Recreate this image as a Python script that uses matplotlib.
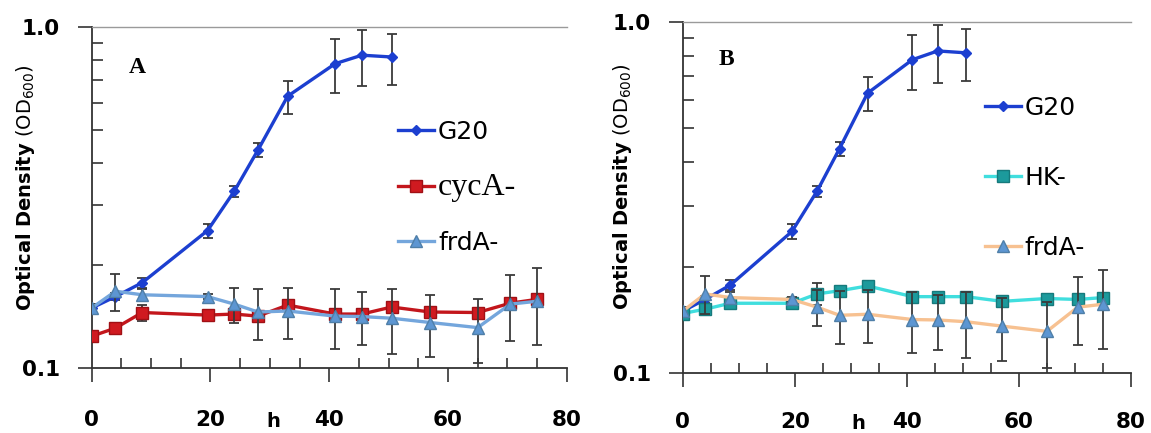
import matplotlib.pyplot as plt
from matplotlib.ticker import LogLocator, NullFormatter, FixedLocator

plt.rcParams['font.family'] = ['DejaVu Sans']
plt.rcParams['mathtext.fontset'] = 'dejavusans'

# time points (h)
hours = [0, 4, 8.5, 19.5, 24, 28, 33, 41, 45.5, 50.5, 57, 65, 70.5, 75]

g20_h = hours[:10]
g20 = [0.150, 0.162, 0.178, 0.253, 0.330, 0.436, 0.627, 0.781, 0.827, 0.817]
g20_err = [0.004, 0.004, 0.006, 0.012, 0.012, 0.02, 0.07, 0.14, 0.155, 0.14]

cyca = [0.124, 0.131, 0.1455, 0.143, 0.144, 0.142, 0.153, 0.144, 0.144, 0.151,
        0.146, 0.1455, 0.155, 0.159]
cyca_err = [0.003, 0.004, 0.008, 0.003, 0.005, 0.004, 0.004, 0.003, 0.003, 0.004,
            0.003, 0.003, 0.004, 0.004]

frda = [0.150, 0.168, 0.164, 0.162, 0.154, 0.146, 0.147, 0.142, 0.1416, 0.140,
        0.136, 0.1314, 0.154, 0.157]
frda_err = [0.004, 0.021, 0.006, 0.003, 0.018, 0.025, 0.025, 0.028, 0.025, 0.03,
            0.028, 0.028, 0.034, 0.04]

hk = [0.1477, 0.152, 0.158, 0.158, 0.168, 0.1715, 0.177, 0.165, 0.165, 0.165,
      0.160, 0.163, 0.162, 0.164]
hk_err = [0.003, 0.003, 0.004, 0.003, 0.012, 0.005, 0.005, 0.003, 0.003, 0.003,
          0.003, 0.003, 0.003, 0.003]

fig = plt.figure(figsize=(11.51, 4.33), dpi=100)
axA = fig.add_axes([0.0797, 0.150, 0.4127, 0.7875])
axB = fig.add_axes([0.5931, 0.1386, 0.3895, 0.8106])

ebar = dict(ecolor='#3a3a3a', elinewidth=1.3, capsize=3.5, capthick=1.3)


def setup(ax, letter, hxy, lbl_x, letter_xy, xpad):
    ax.set_yscale('log')
    ax.set_ylim(0.1, 1.0)
    ax.set_xlim(0, 80)
    ax.yaxis.set_major_locator(FixedLocator([0.1, 1.0]))
    ax.set_yticklabels(['0.1', '1.0'])
    ax.yaxis.set_minor_locator(LogLocator(base=10, subs=range(2, 10)))
    ax.yaxis.set_minor_formatter(NullFormatter())
    ax.set_xticks([0, 20, 40, 60, 80])
    ax.set_xticks(range(5, 80, 5), minor=True)
    ax.tick_params(axis='x', which='major', direction='out', length=10, width=1.2,
                   pad=xpad, labelsize=15.5, color='#333333')
    ax.tick_params(axis='x', which='minor', direction='in', length=7, width=1.2,
                   color='#333333')
    ax.tick_params(axis='y', which='major', direction='out', length=10, width=1.2,
                   pad=13, labelsize=15.5, color='#333333')
    ax.tick_params(axis='y', which='minor', direction='in', length=8, width=1.2,
                   color='#333333')
    for t in ax.get_xticklabels() + ax.get_yticklabels():
        t.set_fontweight('bold')
    ax.spines['right'].set_visible(False)
    ax.spines['top'].set_color('#9a9a9a')
    ax.spines['top'].set_linewidth(1.0)
    for s in ('left', 'bottom'):
        ax.spines[s].set_color('#333333')
        ax.spines[s].set_linewidth(1.3)
    ax.set_ylabel(r'$\mathbf{Optical\ Density}$ (OD$_{600}$)', fontsize=14)
    ax.yaxis.set_label_coords(lbl_x, 0.53)
    ax.text(hxy[0], hxy[1], 'h', transform=ax.transAxes, fontsize=14,
            fontweight='bold', ha='center', va='center')
    ax.text(letter_xy[0], letter_xy[1], letter, transform=ax.transAxes,
            fontsize=17, fontweight='bold', family='Liberation Serif',
            ha='center', va='center')


setup(axA, 'A', (0.382, -0.158), -0.115, (0.095, 0.88), 20)
setup(axB, 'B', (0.391, -0.143), -0.108, (0.097, 0.892), 18)

# panel A
cA1 = axA.errorbar(g20_h, g20, yerr=g20_err, color='#1c3fd0', lw=2.4, marker='D',
                   ms=5, zorder=3, **ebar)
cA2 = axA.errorbar(hours, cyca, yerr=cyca_err, color='#c3161c', lw=2.4, marker='s',
                   ms=8.5, mfc='#d01a20', mec='#a01015', zorder=4, **ebar)
cA3 = axA.errorbar(hours, frda, yerr=frda_err, color='#74a6dc', lw=2.4, marker='^',
                   ms=9, mfc='#5d96d2', mec='#4f7fa8', zorder=5, **ebar)
legA = axA.legend([cA1[0], cA2[0], cA3[0]], ['G20', 'cycA-', 'frdA-'],
                  loc='upper left', bbox_to_anchor=(0.645, 0.727), frameon=False,
                  borderpad=0, borderaxespad=0, handlelength=1.45,
                  handletextpad=0.15, labelspacing=1.15, fontsize=18)
legA.get_texts()[1].set_family('Liberation Serif')
legA.get_texts()[1].set_fontsize(23)

# panel B
cB1 = axB.errorbar(g20_h, g20, yerr=g20_err, color='#1c3fd0', lw=2.4, marker='D',
                   ms=5, zorder=3, **ebar)
cB2 = axB.errorbar(hours, hk, yerr=hk_err, color='#40dede', lw=2.4, marker='s',
                   ms=8.5, mfc='#1c9a9c', mec='#167a7c', zorder=4, **ebar)
cB3 = axB.errorbar(hours, frda, yerr=frda_err, color='#f7c191', lw=2.4, marker='^',
                   ms=9, mfc='#5d96d2', mec='#4f7fa8', zorder=5, **ebar)
axB.legend([cB1[0], cB2[0], cB3[0]], ['G20', 'HK-', 'frdA-'],
           loc='upper left', bbox_to_anchor=(0.674, 0.789), frameon=False,
           borderpad=0, borderaxespad=0, handlelength=1.45,
           handletextpad=0.15, labelspacing=1.84, fontsize=18)

fig.savefig('out.png', dpi=100)
